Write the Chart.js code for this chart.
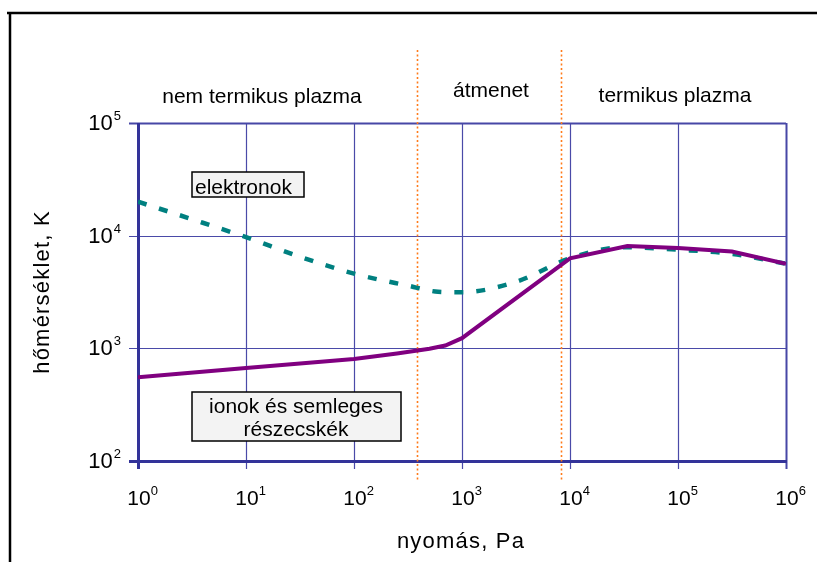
<!DOCTYPE html>
<html>
<head>
<meta charset="utf-8">
<script src="https://cdn.jsdelivr.net/npm/chart.js@4"></script>
<style>
  html, body { margin: 0; padding: 0; background: #ffffff; }
  #wrap { width: 817px; height: 562px; }
</style>
</head>
<body>
<div id="wrap"><canvas id="c" width="817" height="562"></canvas></div>
<script>
// ---- data ----
const xTicks = [1, 10, 100, 1000, 10000, 100000, 1000000];
const xTickExp = ['0', '1', '2', '3', '4', '5', '6'];
const yTicks = [100, 1000, 10000, 100000];
const yTickExp = ['2', '3', '4', '5'];

const electronP = [1, 3.16, 10, 31.6, 100, 316, 600, 1000, 3162, 10000, 31623, 100000, 316228, 1000000];
const electronT = [20000, 14000, 9700, 6500, 4600, 3600, 3180, 3150, 3900, 6300, 7900, 7500, 6900, 5630];

const ionP = [1, 10, 100, 250, 500, 700, 1000, 10000, 34000, 100000, 316000, 1000000];
const ionT = [553, 670, 805, 900, 990, 1060, 1230, 6300, 8100, 7780, 7230, 5630];

const boundaries = [380, 8300];
const regionLabels = ['nem termikus plazma', 'átmenet', 'termikus plazma'];
const seriesLabels = ['elektronok', 'ionok és semleges', 'részecskék'];
const xTitle = 'nyomás, Pa';
const yTitle = 'hőmérséklet, K';

const FONT = '"Liberation Sans", Arial, Helvetica, sans-serif';

const decor = {
  id: 'decor',
  beforeDatasetsDraw(chart) {
    const ctx = chart.ctx;
    const xs = chart.scales.x, ys = chart.scales.y;
    const a = chart.chartArea;
    ctx.save();
    // frame (top + left)
    ctx.strokeStyle = '#000000';
    ctx.lineWidth = 2.5;
    ctx.beginPath();
    ctx.moveTo(7, 13); ctx.lineTo(817, 13);
    ctx.moveTo(10, 13); ctx.lineTo(10, 562);
    ctx.stroke();

    // vertical grid
    xTicks.forEach((v, i) => {
      const px = Math.round(xs.getPixelForValue(v)) + 0.5;
      ctx.beginPath();
      if (i === 0) { ctx.lineWidth = 3; ctx.strokeStyle = '#333399'; }
      else if (i === xTicks.length - 1) { ctx.lineWidth = 2; ctx.strokeStyle = '#4747a6'; }
      else { ctx.lineWidth = 1.2; ctx.strokeStyle = '#4a4aa8'; }
      ctx.moveTo(px, a.top); ctx.lineTo(px, a.bottom + 8);
      ctx.stroke();
    });
    // horizontal grid
    yTicks.forEach((v, i) => {
      const py = Math.round(ys.getPixelForValue(v)) + 0.5;
      ctx.beginPath();
      if (i === 0) { ctx.lineWidth = 3; ctx.strokeStyle = '#333399'; }
      else if (i === yTicks.length - 1) { ctx.lineWidth = 2; ctx.strokeStyle = '#4747a6'; }
      else { ctx.lineWidth = 1.2; ctx.strokeStyle = '#4a4aa8'; }
      ctx.moveTo(a.left - 9, py); ctx.lineTo(a.right, py);
      ctx.stroke();
    });
    // redraw axes on top
    ctx.strokeStyle = '#333399';
    ctx.lineWidth = 3;
    ctx.beginPath();
    const x0 = Math.round(xs.getPixelForValue(xTicks[0])) + 0.5;
    const y0 = Math.round(ys.getPixelForValue(yTicks[0])) + 0.5;
    ctx.moveTo(x0, a.top); ctx.lineTo(x0, a.bottom + 8);
    ctx.moveTo(a.left - 9, y0); ctx.lineTo(a.right + 1, y0);
    ctx.stroke();

    // x tick labels
    ctx.fillStyle = '#000000';
    xTicks.forEach((v, i) => {
      const px = xs.getPixelForValue(v);
      ctx.font = '21px ' + FONT;
      ctx.textAlign = 'center';
      ctx.textBaseline = 'alphabetic';
      const w = ctx.measureText('10').width;
      const cx = px + 1;
      ctx.fillText('10', cx, a.bottom + 44);
      ctx.font = '13px ' + FONT;
      ctx.textAlign = 'left';
      ctx.fillText(xTickExp[i], cx + w / 2, a.bottom + 34);
    });
    // y tick labels
    yTicks.forEach((v, i) => {
      const py = ys.getPixelForValue(v);
      ctx.font = '13px ' + FONT;
      ctx.textAlign = 'right';
      const sw = ctx.measureText(yTickExp[i]).width;
      ctx.fillText(yTickExp[i], 121, py - 3);
      ctx.font = '22px ' + FONT;
      ctx.fillText('10', 121 - sw - 1, py + 7);
    });

    // axis titles
    ctx.font = '22px ' + FONT;
    ctx.textAlign = 'center';
    ctx.letterSpacing = '1.2px';
    ctx.fillText(xTitle, 461, 548);
    ctx.save();
    ctx.translate(49, 292);
    ctx.rotate(-Math.PI / 2);
    ctx.fillText(yTitle, 0, 0);
    ctx.restore();
    ctx.letterSpacing = '0px';

    // region labels
    ctx.font = '21px ' + FONT;
    ctx.fillText(regionLabels[0], 262, 103);
    ctx.fillText(regionLabels[1], 491, 97);
    ctx.fillText(regionLabels[2], 675, 102);

    // boundaries (dotted orange)
    ctx.strokeStyle = '#ff7a1a';
    ctx.lineWidth = 1.6;
    ctx.setLineDash([2, 2.5]);
    boundaries.forEach(v => {
      const px = Math.round(xs.getPixelForValue(v)) + 0.5;
      ctx.beginPath();
      ctx.moveTo(px, 50); ctx.lineTo(px, 482);
      ctx.stroke();
    });
    ctx.setLineDash([]);
    ctx.restore();
  },
  afterDatasetsDraw(chart) {
    const ctx = chart.ctx;
    ctx.save();
    ctx.font = '21px ' + FONT;
    ctx.lineWidth = 1.5;
    ctx.strokeStyle = '#000000';
    // elektronok box
    ctx.fillStyle = '#f3f3f3';
    ctx.fillRect(192, 172, 112, 25);
    ctx.strokeRect(192, 172, 112, 25);
    ctx.fillStyle = '#000000';
    ctx.textAlign = 'left';
    ctx.textBaseline = 'alphabetic';
    ctx.fillText(seriesLabels[0], 195, 194);
    // ionok box
    ctx.fillStyle = '#f3f3f3';
    ctx.fillRect(192, 392, 209, 49);
    ctx.strokeRect(192, 392, 209, 49);
    ctx.fillStyle = '#000000';
    ctx.textAlign = 'center';
    ctx.fillText(seriesLabels[1], 296, 413);
    ctx.fillText(seriesLabels[2], 296, 436);
    ctx.restore();
  }
};

new Chart(document.getElementById('c'), {
  type: 'line',
  data: {
    datasets: [
      {
        label: 'elektronok',
        data: electronP.map((p, i) => ({ x: p, y: electronT[i] })),
        borderColor: '#008080',
        borderWidth: 4.5,
        borderDash: [9, 13],
        pointRadius: 0,
        cubicInterpolationMode: 'monotone',
        fill: false,
        order: 2
      },
      {
        label: 'ionok és semleges részecskék',
        data: ionP.map((p, i) => ({ x: p, y: ionT[i] })),
        borderColor: '#800080',
        borderWidth: 4,
        pointRadius: 0,
        tension: 0,
        fill: false,
        order: 1
      }
    ]
  },
  options: {
    responsive: false,
    animation: false,
    devicePixelRatio: 1,
    layout: { padding: { left: 138, right: 31, top: 123, bottom: 101 } },
    plugins: { legend: { display: false }, tooltip: { enabled: false } },
    scales: {
      x: { type: 'logarithmic', min: 1, max: 1000000, display: false },
      y: { type: 'logarithmic', min: 100, max: 100000, display: false }
    }
  },
  plugins: [decor]
});
</script>
</body>
</html>
